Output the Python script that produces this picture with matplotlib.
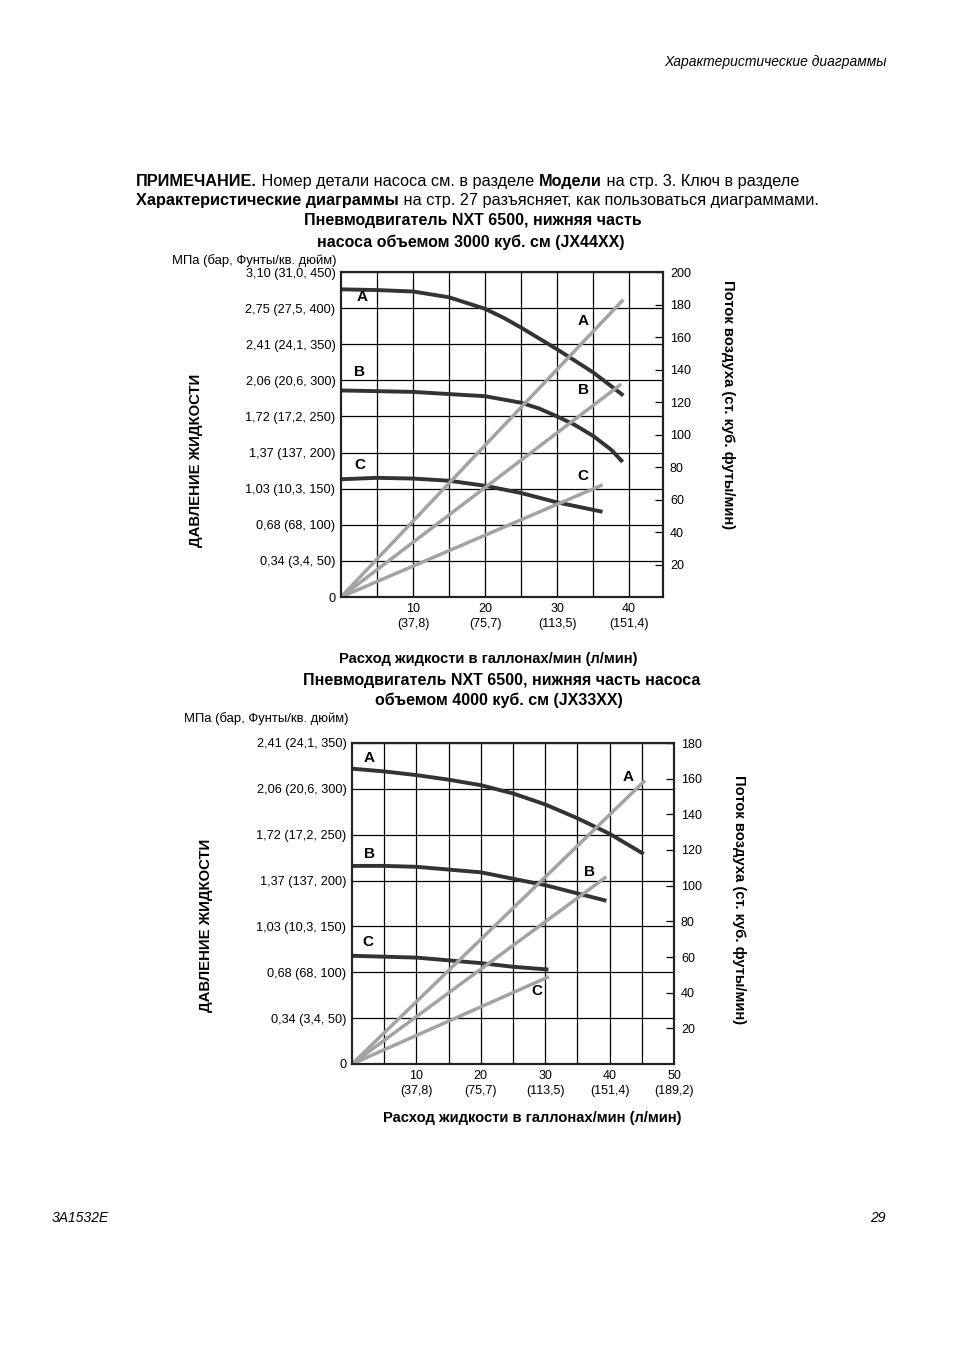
import matplotlib
matplotlib.use('Agg')
import matplotlib.pyplot as plt

plt.rcParams['font.family'] = ['Liberation Sans', 'DejaVu Sans']

W, H = 954, 1350

# ---------------- data: chart 1 (3000 cc) ----------------
c1_flow_A = [0, 5, 10, 15, 20, 22.5, 25, 27.5, 30, 32.5, 35, 39.2]
c1_psi_A = [426, 425, 423, 415, 399, 387, 373, 358, 343, 327, 311, 279]
c1_flow_B = [0, 5, 10, 15, 20, 25, 27.5, 30, 32.5, 35, 37.5, 39.1]
c1_psi_B = [286, 285, 284, 281, 278, 269, 261, 250, 238, 223, 204, 187]
c1_flow_C = [0, 5, 10, 15, 20, 25, 30, 36.3]
c1_psi_C = [163, 165, 164, 161, 154, 144, 131, 118]
c1_air_flow = {'A': [0, 39.2], 'B': [0, 38.9], 'C': [0, 36.3]}
c1_air_cfm = {'A': [0, 183], 'B': [0, 131], 'C': [0, 69]}
c1_yticklabels = ['0', '0,34 (3,4, 50)', '0,68 (68, 100)', '1,03 (10,3, 150)',
                  '1,37 (137, 200)', '1,72 (17,2, 250)', '2,06 (20,6, 300)',
                  '2,41 (24,1, 350)', '2,75 (27,5, 400)', '3,10 (31,0, 450)']
c1_xticklabels = ['10\n(37,8)', '20\n(75,7)', '30\n(113,5)', '40\n(151,4)']

# ---------------- data: chart 2 (4000 cc) ----------------
c2_flow_A = [0, 5, 10, 15, 20, 25, 30, 35, 40, 45.3]
c2_psi_A = [322, 319, 315, 310, 304, 295, 283, 268, 251, 229]
c2_flow_B = [0, 5, 10, 15, 20, 25, 30, 35, 39.5]
c2_psi_B = [216, 216, 215, 212, 209, 202, 195, 186, 178]
c2_flow_C = [0, 5, 10, 15, 20, 25, 30.5]
c2_psi_C = [118, 117, 116, 113, 110, 106, 103]
c2_air_flow = {'A': [0, 45.5], 'B': [0, 39.5], 'C': [0, 30.6]}
c2_air_cfm = {'A': [0, 159], 'B': [0, 105], 'C': [0, 49]}
c2_yticklabels = ['0', '0,34 (3,4, 50)', '0,68 (68, 100)', '1,03 (10,3, 150)',
                  '1,37 (137, 200)', '1,72 (17,2, 250)', '2,06 (20,6, 300)',
                  '2,41 (24,1, 350)']
c2_xticklabels = ['10\n(37,8)', '20\n(75,7)', '30\n(113,5)', '40\n(151,4)', '50\n(189,2)']

DARK = '#333333'
GRAY = '#a3a3a3'

fig = plt.figure(figsize=(W / 100, H / 100), dpi=100)
fig.patch.set_facecolor('white')


def fx(x):
    return x / W


def fy(y):
    return 1 - y / H


def make_chart(rect, xmax, ymax, ymax_air, yticklabels, xticklabels, xlabeled,
               curves, air, dark_lbl, gray_lbl):
    ax = fig.add_axes(rect)
    ax.set_xlim(0, xmax)
    ax.set_ylim(0, ymax)
    xt = list(range(5, int(xmax) + 1, 5))
    ax.set_xticks(xt)
    ax.set_xticklabels([xticklabels[xlabeled.index(v)] if v in xlabeled else '' for v in xt],
                       fontsize=9, linespacing=1.4)
    yt = list(range(0, ymax + 1, 50))
    ax.set_yticks(yt)
    ax.set_yticklabels(yticklabels, fontsize=9.2)
    ax.tick_params(axis='both', length=0, pad=4)
    ax.grid(True, color='black', linewidth=0.9)
    ax.set_axisbelow(True)
    for s in ax.spines.values():
        s.set_linewidth(1.5)
        s.set_color('#222222')
    for (fl, ps) in curves:
        ax.plot(fl, ps, color=DARK, lw=2.8, solid_capstyle='butt', solid_joinstyle='round', zorder=3)
    for k, (x, y) in dark_lbl.items():
        ax.text(x, y, k, fontsize=11, fontweight='bold', ha='center', va='center', zorder=5)
    for k, (x, y) in gray_lbl.items():
        ax.text(x, y, k, fontsize=11, fontweight='bold', ha='center', va='center', zorder=5)

    ax2 = ax.twinx()
    ax2.set_ylim(0, ymax_air)
    ax2.set_yticks(list(range(20, ymax_air + 1, 20)))
    ax2.tick_params(axis='y', direction='in', length=6, width=0.9, pad=5, labelsize=9)
    for s in ax2.spines.values():
        s.set_linewidth(1.5)
        s.set_color('#222222')
    for k in ['A', 'B', 'C']:
        ax2.plot(air[0][k], air[1][k], color=GRAY, lw=2.5, solid_capstyle='butt', zorder=2)
    return ax


# chart 1 axes: x 341-663, y 272-597 px
make_chart([fx(341), fy(597), 322 / W, 325 / H], 44.7, 450, 200,
           c1_yticklabels, c1_xticklabels, [10, 20, 30, 40],
           [(c1_flow_A, c1_psi_A), (c1_flow_B, c1_psi_B), (c1_flow_C, c1_psi_C)],
           (c1_air_flow, c1_air_cfm),
           {'A': (2.9, 415), 'B': (2.6, 311), 'C': (2.6, 183)},
           {'A': (33.6, 382), 'B': (33.6, 286), 'C': (33.6, 167)})

# chart 2 axes: x 352-674, y 743-1064 px
make_chart([fx(352), fy(1064), 322 / W, 321 / H], 50, 350, 180,
           c2_yticklabels, c2_xticklabels, [10, 20, 30, 40, 50],
           [(c2_flow_A, c2_psi_A), (c2_flow_B, c2_psi_B), (c2_flow_C, c2_psi_C)],
           (c2_air_flow, c2_air_cfm),
           {'A': (2.7, 334), 'B': (2.7, 229), 'C': (2.4, 133)},
           {'A': (42.8, 313), 'B': (36.9, 209.5), 'C': (28.7, 80)})

# ---------------- page texts ----------------
fig.text(fx(887), fy(62), 'Характеристические диаграммы', fontsize=10, style='italic',
         ha='right', va='center')
fig.text(fx(52), fy(1218), '3A1532E', fontsize=10, style='italic', ha='left', va='center')
fig.text(fx(886), fy(1218), '29', fontsize=10, style='italic', ha='right', va='center')

renderer = fig.canvas.get_renderer()


def rich_line(x_px, y_px, parts, size):
    x = x_px
    for txt, bold in parts:
        t = fig.text(fx(x), fy(y_px), txt, fontsize=size,
                     fontweight='bold' if bold else 'normal', ha='left', va='baseline')
        bb = t.get_window_extent(renderer=renderer)
        x += bb.width


rich_line(136, 186, [('ПРИМЕЧАНИЕ.', True), (' Номер детали насоса см. в разделе ', False),
                     ('Модели', True), (' на стр. 3. Ключ в разделе', False)], 11.7)
rich_line(136, 205, [('Характеристические диаграммы', True),
                     (' на стр. 27 разъясняет, как пользоваться диаграммами.', False)], 11.7)

# chart 1 texts
fig.text(fx(473), fy(221), 'Пневмодвигатель NXT 6500, нижняя часть', fontsize=11.5,
         fontweight='bold', ha='center', va='center')
fig.text(fx(471), fy(242), 'насоса объемом 3000 куб. см (JX44XX)', fontsize=11.5,
         fontweight='bold', ha='center', va='center')
fig.text(fx(172), fy(261), 'МПа (бар, Фунты/кв. дюйм)', fontsize=9.4, ha='left', va='center')
fig.text(fx(196), fy(460), 'ДАВЛЕНИЕ ЖИДКОСТИ', fontsize=10.7, fontweight='bold',
         rotation=90, ha='center', va='center')
fig.text(fx(728), fy(405), 'Поток воздуха (ст. куб. футы/мин)', fontsize=10.6, fontweight='bold',
         rotation=270, ha='center', va='center')
fig.text(fx(488), fy(659), 'Расход жидкости в галлонах/мин (л/мин)', fontsize=10.6,
         fontweight='bold', ha='center', va='center')

# chart 2 texts
fig.text(fx(502), fy(681), 'Пневмодвигатель NXT 6500, нижняя часть насоса', fontsize=11.5,
         fontweight='bold', ha='center', va='center')
fig.text(fx(499), fy(700), 'объемом 4000 куб. см (JX33XX)', fontsize=11.5,
         fontweight='bold', ha='center', va='center')
fig.text(fx(184), fy(719), 'МПа (бар, Фунты/кв. дюйм)', fontsize=9.4, ha='left', va='center')
fig.text(fx(206), fy(925), 'ДАВЛЕНИЕ ЖИДКОСТИ', fontsize=10.7, fontweight='bold',
         rotation=90, ha='center', va='center')
fig.text(fx(739), fy(900), 'Поток воздуха (ст. куб. футы/мин)', fontsize=10.6, fontweight='bold',
         rotation=270, ha='center', va='center')
fig.text(fx(532), fy(1118), 'Расход жидкости в галлонах/мин (л/мин)', fontsize=10.6,
         fontweight='bold', ha='center', va='center')

fig.savefig('out.png', dpi=100, facecolor='white')
